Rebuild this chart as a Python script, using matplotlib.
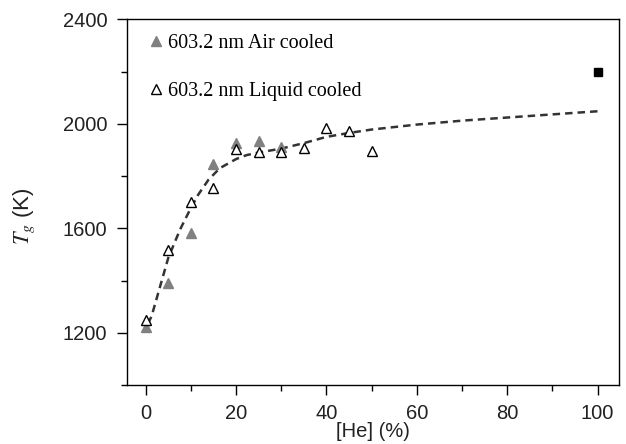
import matplotlib
matplotlib.use("Agg")
import matplotlib.pyplot as plt
import matplotlib.ticker as mticker

# values
he_air = [0, 5, 10, 15, 20, 25, 30]
tg_air = [1222, 1390, 1583, 1845, 1928, 1933, 1913]

he_liq = [0, 5, 10, 15, 20, 25, 30, 35, 40, 45, 50]
tg_liq = [1248, 1517, 1701, 1755, 1905, 1892, 1892, 1909, 1985, 1972, 1896]

he_pure = [100]
tg_pure = [2197]

# dashed guide curve
he_fit = [0.5, 1.3, 3.2, 5, 7.6, 9.8, 11.6, 13.9, 16.4, 20, 22.3, 25, 30,
          35, 40, 45, 50, 60, 70, 80, 90, 100]
tg_fit = [1235, 1263, 1378, 1487, 1595, 1671, 1728, 1786, 1830, 1865, 1880,
          1890, 1905, 1926, 1950, 1965, 1978, 1997, 2012, 2024, 2036, 2048]

plt.rcParams['mathtext.fontset'] = 'stix'

fig = plt.figure(figsize=(6.26, 4.44), dpi=100)
ax = fig.add_axes([0.2024, 0.1329, 0.787, 0.8236])

ax.plot(he_fit, tg_fit, '--', color='#333333', lw=1.8, dashes=(3, 2), zorder=1)
ax.plot(he_air, tg_air, '^', color='#808080', ms=7, mec='#808080',
        ls='none', label='603.2 nm Air cooled', zorder=2)
ax.plot(he_liq, tg_liq, '^', mfc='white', mec='black', mew=1.0, ms=7,
        ls='none', label='603.2 nm Liquid cooled', zorder=3)
ax.plot(he_pure, tg_pure, 's', color='black', ms=6, ls='none', zorder=3)

ax.set_xlim(-4.2, 104.8)
ax.set_ylim(1000, 2400)
ax.xaxis.set_major_locator(mticker.MultipleLocator(20))
ax.xaxis.set_minor_locator(mticker.MultipleLocator(10))
ax.yaxis.set_major_locator(mticker.FixedLocator([1200, 1600, 2000, 2400]))
ax.yaxis.set_minor_locator(mticker.MultipleLocator(200))

ax.tick_params(which='major', direction='out', length=7, width=1,
               labelsize=14.5, colors='black', pad=7)
ax.tick_params(which='minor', direction='out', length=4, width=1)
ax.tick_params(top=False, right=False, which='both')
for lab in ax.get_xticklabels() + ax.get_yticklabels():
    lab.set_fontfamily('Liberation Sans')
    lab.set_color('#222222')
for sp in ax.spines.values():
    sp.set_linewidth(1.0)

ax.set_xlabel('[He] (%)', fontsize=14.5, family='Liberation Sans',
              color='#222222')
ax.xaxis.set_label_coords(0.5, -0.1)
ax.set_ylabel(r'$T_g$ (K)', fontsize=16, family='Liberation Sans',
              color='#222222')
ax.yaxis.set_label_coords(-0.182, 0.462)

ax.legend(loc='upper left', bbox_to_anchor=(0.022, 0.997), frameon=False,
          handlelength=0.5, handletextpad=0.35, labelspacing=1.45,
          borderaxespad=0.25,
          prop={'family': 'Liberation Serif', 'size': 14.5})

fig.savefig('out.png', dpi=100)
